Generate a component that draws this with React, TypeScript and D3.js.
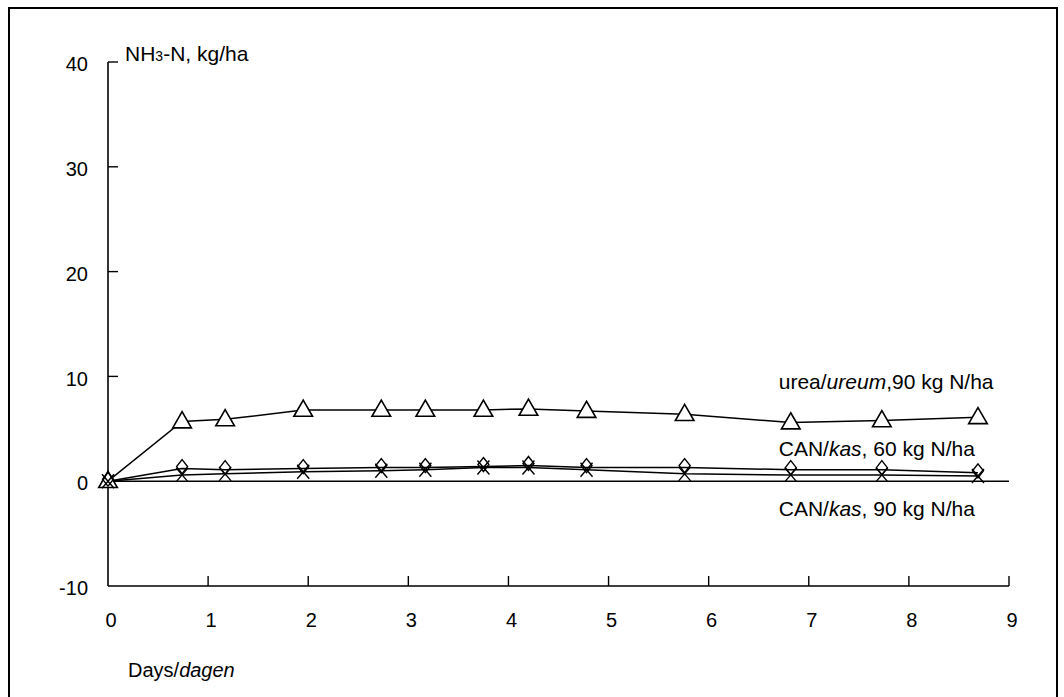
import * as d3 from 'd3';

const days = [0, 0.74, 1.17, 1.95, 2.73, 3.17, 3.75, 4.2, 4.78, 5.76, 6.82, 7.73, 8.69];
const urea = [0, 5.7, 5.9, 6.8, 6.8, 6.8, 6.8, 6.9, 6.7, 6.4, 5.6, 5.8, 6.1];
const can60 = [0, 1.2, 1.1, 1.2, 1.3, 1.3, 1.4, 1.5, 1.3, 1.3, 1.1, 1.1, 0.8];
const can90 = [0, 0.6, 0.7, 0.9, 1.0, 1.1, 1.3, 1.3, 1.1, 0.7, 0.6, 0.6, 0.5];

const xTicks = [0, 1, 2, 3, 4, 5, 6, 7, 8, 9];
const yTicks = [-10, 0, 10, 20, 30, 40];

const labels = [
  { pre: 'urea/', it: 'ureum', post: ',90 kg N/ha', day: 6.7, val: 8.8 },
  { pre: 'CAN/', it: 'kas', post: ', 60 kg N/ha', day: 6.7, val: 2.4 },
  { pre: 'CAN/', it: 'kas', post: ', 90 kg N/ha', day: 6.7, val: -3.3 },
];

const W = 1064;
const H = 697;
const font = '"Liberation Sans", Arial, sans-serif';

export default function App() {
  const x = d3.scaleLinear().domain([0, 9]).range([108, 1009]);
  const y = d3.scaleLinear().domain([-10, 40]).range([586, 62]);

  const line = d3
    .line<number>()
    .x((_, i) => x(days[i]))
    .y(d => y(d));

  const tri = d3.symbol().type(d3.symbolTriangle).size(150)()!;
  const dia = 'M0,-7L5.5,0L0,7L-5.5,0Z';
  const cross = 'M-6,-7L6,7M-6,7L6,-7';

  return (
    <svg width={W} height={H} style={{ position: 'absolute', left: 0, top: 0 }} fontFamily={font}>
      <rect x={0} y={0} width={W} height={H} fill="#fff" />
      <rect x={9} y={8} width={1048} height={700} fill="none" stroke="#000" strokeWidth={2} />

      {/* axes */}
      <line x1={x(0)} x2={x(0)} y1={y(40)} y2={y(-10)} stroke="#000" strokeWidth={1.6} />
      <line x1={x(0)} x2={x(9)} y1={y(-10)} y2={y(-10)} stroke="#000" strokeWidth={1.6} />
      {yTicks.filter(t => t > -10).map(t => (
        <line key={t} x1={x(0)} x2={x(0) + 10} y1={y(t)} y2={y(t)} stroke="#000" strokeWidth={1.4} />
      ))}
      {yTicks.map(t => (
        <text key={t} x={88} y={y(t) + 2} dy="0.36em" textAnchor="end" fontSize={20}>
          {t}
        </text>
      ))}
      {xTicks.filter(t => t > 0).map(t => (
        <line key={t} x1={x(t)} x2={x(t)} y1={y(-10)} y2={y(-10) - 10} stroke="#000" strokeWidth={1.4} />
      ))}
      {xTicks.map(t => (
        <text key={t} x={x(t) + 3} y={627} textAnchor="middle" fontSize={20}>
          {t}
        </text>
      ))}

      <text x={125} y={61} fontSize={21}>
        NH<tspan fontSize={14}>3</tspan>-N, kg/ha
      </text>
      <text x={128} y={677} fontSize={20}>
        Days/<tspan fontStyle="italic">dagen</tspan>
      </text>

      {/* zero line */}
      <line x1={x(0)} x2={x(9)} y1={y(0)} y2={y(0)} stroke="#000" strokeWidth={1.6} />

      {[urea, can60, can90].map((s, k) => (
        <path key={k} d={line(s)!} fill="none" stroke="#000" strokeWidth={1.5} />
      ))}

      {urea.map((v, i) => (
        <path key={'u' + i} d={tri} transform={`translate(${x(days[i])},${y(v) + 1})`} fill="#fff" stroke="#000" strokeWidth={1.6} />
      ))}
      {can60.map((v, i) => (
        <path key={'a' + i} d={dia} transform={`translate(${x(days[i])},${y(v) - 2})`} fill="none" stroke="#000" strokeWidth={1.4} />
      ))}
      {can90.map((v, i) => (
        <path key={'b' + i} d={cross} transform={`translate(${x(days[i])},${y(v)})`} fill="none" stroke="#000" strokeWidth={1.4} />
      ))}

      {labels.map((l, i) => (
        <text key={i} x={x(l.day)} y={y(l.val)} fontSize={21}>
          {l.pre}
          <tspan fontStyle="italic">{l.it}</tspan>
          {l.post}
        </text>
      ))}
    </svg>
  );
}
